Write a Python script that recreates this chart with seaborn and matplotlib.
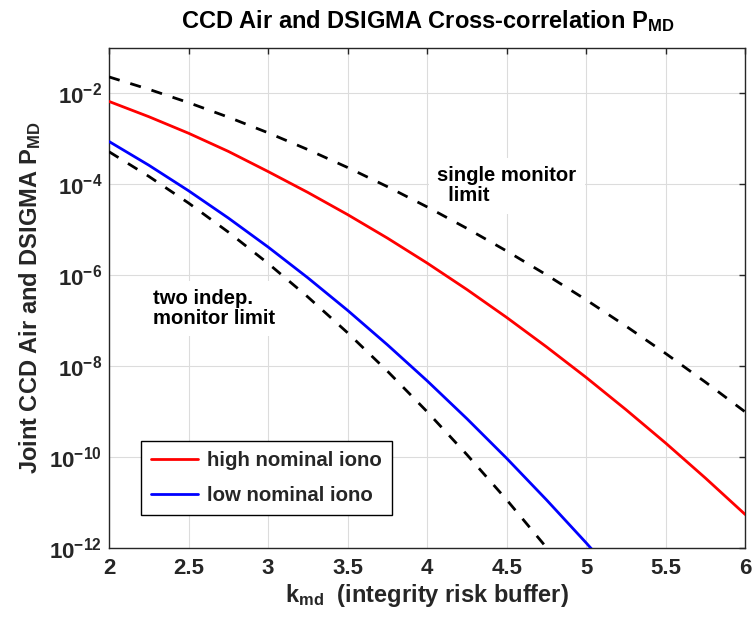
import math
import matplotlib
matplotlib.use("Agg")
import matplotlib.pyplot as plt
from matplotlib.ticker import FixedLocator, NullLocator, FuncFormatter
import seaborn as sns

# k_md grid (integrity risk buffer)
k_md = [2.0, 2.25, 2.5, 2.75, 3.0, 3.25, 3.5, 3.75, 4.0,
        4.25, 4.5, 4.75, 5.0, 5.25, 5.5, 5.75, 6.0]

# single monitor limit
single_limit = [2.28e-2, 1.22e-2, 6.21e-3, 2.98e-3, 1.35e-3, 5.77e-4, 2.33e-4,
                8.84e-5, 3.17e-5, 1.07e-5, 3.40e-6, 1.02e-6, 2.87e-7, 7.60e-8,
                1.90e-8, 4.46e-9, 9.87e-10]

# two independent monitors limit
two_indep_limit = [5.18e-4, 1.49e-4, 3.86e-5, 8.88e-6, 1.82e-6, 3.33e-7,
                   5.43e-8, 7.81e-9, 1.00e-9, 1.14e-10, 1.16e-11, 1.04e-12,
                   8.2e-14]

# joint P_MD, high nominal ionosphere
high_iono = [6.6e-3, 3.05e-3, 1.32e-3, 5.27e-4, 1.90e-4, 6.60e-5, 2.15e-5,
             6.55e-6, 1.85e-6, 4.85e-7, 1.18e-7, 2.67e-8, 5.66e-9, 1.11e-9,
             2.04e-10, 3.47e-11, 5.5e-12]

# joint P_MD, low nominal ionosphere
low_iono = [8.7e-4, 2.62e-4, 7.19e-5, 1.81e-5, 4.17e-6, 8.77e-7, 1.69e-7,
            2.96e-8, 4.78e-9, 7.03e-10, 9.46e-11, 1.16e-11, 1.31e-12, 1.35e-13]

x_ticks = [2, 2.5, 3, 3.5, 4, 4.5, 5, 5.5, 6]
x_tick_labels = ["2", "2.5", "3", "3.5", "4", "4.5", "5", "5.5", "6"]
y_tick_exp = [-12, -10, -8, -6, -4, -2]

sns.set_theme(style="white")
plt.rcParams["font.family"] = ["Liberation Sans", "DejaVu Sans"]
plt.rcParams["font.weight"] = "bold"
plt.rcParams["mathtext.fontset"] = "custom"
plt.rcParams["mathtext.rm"] = "Liberation Sans:bold"
plt.rcParams["mathtext.it"] = "Liberation Sans:bold"
plt.rcParams["mathtext.bf"] = "Liberation Sans:bold"
plt.rcParams["mathtext.default"] = "bf"

axis_gray = "#262626"

fig = plt.figure(figsize=(7.54, 6.18), dpi=100)
ax = fig.add_axes([0.1446, 0.1128, 0.8439, 0.8100])

dash = (0, (4, 4))
sns.lineplot(x=k_md[:len(single_limit)], y=single_limit, ax=ax, color="black",
             lw=2, linestyle=dash, zorder=3)
sns.lineplot(x=k_md[:len(two_indep_limit)], y=two_indep_limit, ax=ax,
             color="black", lw=2, linestyle=dash, zorder=3)
sns.lineplot(x=k_md[:len(high_iono)], y=high_iono, ax=ax, color="#ff0000",
             lw=2, zorder=4, label="high nominal iono")
sns.lineplot(x=k_md[:len(low_iono)], y=low_iono, ax=ax, color="#0000ff",
             lw=2, zorder=4, label="low nominal iono")

ax.set_yscale("log")
ax.set_xlim(2, 6)
ax.set_ylim(1e-12, 1e-1)

ax.xaxis.set_major_locator(FixedLocator(x_ticks))
ax.set_xticklabels(x_tick_labels)
ax.yaxis.set_major_locator(FixedLocator([10.0 ** e for e in y_tick_exp]))
ax.yaxis.set_minor_locator(NullLocator())
ax.xaxis.set_minor_locator(NullLocator())
ax.yaxis.set_major_formatter(FuncFormatter(
    lambda v, pos: r"$10^{%d}$" % round(math.log10(v))))

ax.grid(True, color="#dcdcdc", lw=0.8)
ax.set_axisbelow(True)
for s in ax.spines.values():
    s.set_visible(True)
    s.set_color(axis_gray)
    s.set_linewidth(1.0)
ax.tick_params(axis="both", which="major", direction="in", length=4,
               width=1.0, color=axis_gray, labelcolor=axis_gray,
               top=True, right=True, labelsize=16)
ax.tick_params(axis="x", pad=7)
ax.tick_params(axis="y", pad=5)
for lab in ax.get_xticklabels() + ax.get_yticklabels():
    lab.set_fontweight("bold")

ax.set_title(r"CCD Air and DSIGMA Cross-correlation P$_{MD}$",
             fontsize=17, fontweight="bold", color="black", pad=14)
ax.set_xlabel(r"k$_{md}$  (integrity risk buffer)", fontsize=17,
              fontweight="bold", color=axis_gray)
ax.set_ylabel(r"Joint CCD Air and DSIGMA P$_{MD}$", fontsize=17,
              fontweight="bold", color=axis_gray)
ax.xaxis.set_label_coords(0.5, -0.068)
ax.yaxis.set_label_coords(-0.1037, 0.5)

ax.text(4.063, 9.3e-5, "single monitor\n  limit", fontsize=14.6,
        fontweight="bold", color="black", ha="left", va="center",
        linespacing=1.08, zorder=2,
        bbox=dict(facecolor="white", edgecolor="none", pad=6))
ax.text(2.277, 1.86e-7, "two indep.\nmonitor limit", fontsize=14.6,
        fontweight="bold", color="black", ha="left", va="center",
        linespacing=1.08, zorder=2,
        bbox=dict(facecolor="white", edgecolor="none", pad=6))

handles, labels = ax.get_legend_handles_labels()
leg = ax.legend(handles, labels, loc="lower left",
                bbox_to_anchor=(0.0503, 0.0665), borderaxespad=0,
                fontsize=14.7, frameon=True, fancybox=False, framealpha=1,
                edgecolor="black", handlelength=2.3, handletextpad=0.42,
                borderpad=0.5, labelspacing=0.75)
leg.get_frame().set_linewidth(1.0)
for t in leg.get_texts():
    t.set_fontweight("bold")

fig.savefig("out.png", dpi=100)
